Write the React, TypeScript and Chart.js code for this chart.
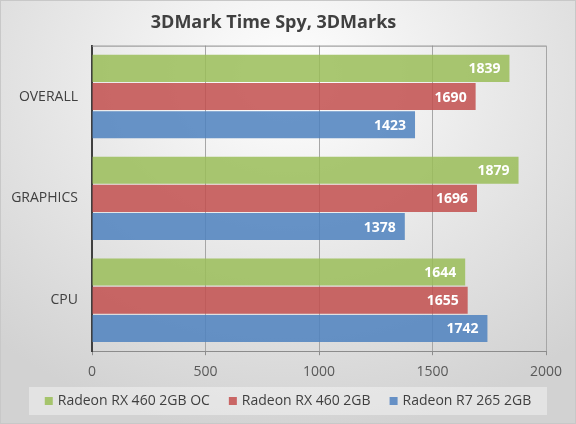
import React, { useEffect, useRef } from "react";
import { Chart, registerables } from "chart.js";

Chart.register(...registerables);

const categories = ["OVERALL", "GRAPHICS", "CPU"];
const seriesNames = ["Radeon RX 460 2GB OC", "Radeon RX 460 2GB", "Radeon R7 265 2GB"];
const rx460oc = [1839, 1879, 1644];
const rx460 = [1690, 1696, 1655];
const r7265 = [1423, 1378, 1742];
const xTicks = [0, 500, 1000, 1500, 2000];

const FONT = "'Open Sans', 'Noto Sans', sans-serif";

const frameAndLabels = {
  id: "frameAndLabels",
  afterDatasetsDraw(chart: any) {
    const ctx = chart.ctx;
    const a = chart.chartArea;
    ctx.save();
    ctx.strokeStyle = "#8c8c8c";
    ctx.lineWidth = 1;
    ctx.beginPath();
    ctx.moveTo(a.left, a.top + 0.5);
    ctx.lineTo(a.right, a.top + 0.5);
    ctx.stroke();
    ctx.fillStyle = "#ffffff";
    ctx.font = "bold 14px " + FONT;
    ctx.textAlign = "right";
    ctx.textBaseline = "middle";
    chart.data.datasets.forEach((ds: any, i: number) => {
      const meta = chart.getDatasetMeta(i);
      meta.data.forEach((el: any, j: number) => {
        ctx.fillText(String(ds.data[j]), el.x - 9, el.y + 1);
      });
    });
    ctx.restore();
  },
  afterDraw(chart: any) {
    // bottom legend in a light box
    const ctx = chart.ctx;
    const a = chart.chartArea;
    const boxLeft = 28;
    const boxRight = a.right + 1;
    const boxTop = chart.height - 36;
    const boxBottom = chart.height - 8;
    ctx.save();
    ctx.fillStyle = "rgba(255,255,255,0.38)";
    ctx.fillRect(boxLeft, boxTop, boxRight - boxLeft, boxBottom - boxTop);
    ctx.font = "14px " + FONT;
    ctx.textBaseline = "middle";
    ctx.textAlign = "left";
    const sq = 8;
    const gapText = 5;
    const gapItem = 19;
    const items = chart.data.datasets.map((ds: any) => ({
      label: ds.label,
      color: ds.legendColor,
      w: sq + gapText + ctx.measureText(ds.label).width,
    }));
    const total = items.reduce((s: number, it: any) => s + it.w, 0) + gapItem * (items.length - 1);
    let x = (boxLeft + boxRight) / 2 - total / 2;
    const cy = (boxTop + boxBottom) / 2;
    items.forEach((it: any) => {
      ctx.fillStyle = it.color;
      ctx.fillRect(x, cy - sq / 2, sq, sq);
      ctx.fillStyle = "#404040";
      ctx.fillText(it.label, x + sq + gapText, cy);
      x += it.w + gapItem;
    });
    ctx.restore();
  },
};

export default function App() {
  const ref = useRef<HTMLCanvasElement>(null);
  useEffect(() => {
    if (!ref.current) return;
    const chart = new Chart(ref.current, {
      type: "bar",
      data: {
        labels: categories,
        datasets: [
          { label: seriesNames[0], data: rx460oc, backgroundColor: "rgba(155,190,90,0.86)", legendColor: "#a5c46c", borderWidth: 0 } as any,
          { label: seriesNames[1], data: rx460, backgroundColor: "rgba(195,80,79,0.86)", legendColor: "#c96665", borderWidth: 0 } as any,
          { label: seriesNames[2], data: r7265, backgroundColor: "rgba(79,130,191,0.86)", legendColor: "#6690c5", borderWidth: 0 } as any,
        ],
      },
      options: {
        indexAxis: "y",
        animation: false,
        responsive: false,
        maintainAspectRatio: false,
        datasets: { bar: { categoryPercentage: 0.83, barPercentage: 0.96 } },
        layout: { padding: { left: 0, right: 29, top: 0, bottom: 35 } },
        scales: {
          x: {
            min: 0,
            max: 2000,
            afterBuildTicks: (s: any) => { s.ticks = xTicks.map((v) => ({ value: v })); },
            grid: { color: "#a6a6a6", lineWidth: 1, drawTicks: true, tickLength: 4, tickColor: "#8c8c8c" },
            border: { display: true, color: "#8c8c8c", width: 1 },
            ticks: { color: "#595959", font: { family: FONT, size: 14 }, padding: 8, maxRotation: 0, callback: (v: any) => String(v) },
          },
          y: {
            afterFit: (s: any) => { s.width = 91; },
            grid: { display: false, drawTicks: false },
            border: { display: true, color: "#404040", width: 2 },
            ticks: { color: "#404040", font: { family: FONT, size: 14 }, padding: 14 },
          },
        },
        plugins: {
          title: {
            display: true,
            text: "3DMark Time Spy, 3DMarks",
            color: "#404040",
            font: { family: FONT, size: 18, weight: "bold" },
            padding: { top: 11, bottom: 12 },
          },
          legend: { display: false },
          tooltip: { enabled: false },
        },
      },
      plugins: [frameAndLabels],
    });
    return () => chart.destroy();
  }, []);
  return (
    <div
      style={{
        position: "absolute",
        left: 0,
        top: 0,
        width: 576,
        height: 424,
        boxSizing: "border-box",
        border: "1px solid #c8c8c8",
        background: "radial-gradient(ellipse 75% 85% at 50% 18%, #ffffff 0%, #e8e8e8 50%, #d2d2d2 100%)",
        overflow: "hidden",
      }}
    >
      <canvas ref={ref} width={574} height={422} style={{ display: "block", width: 574, height: 422 }} />
    </div>
  );
}
